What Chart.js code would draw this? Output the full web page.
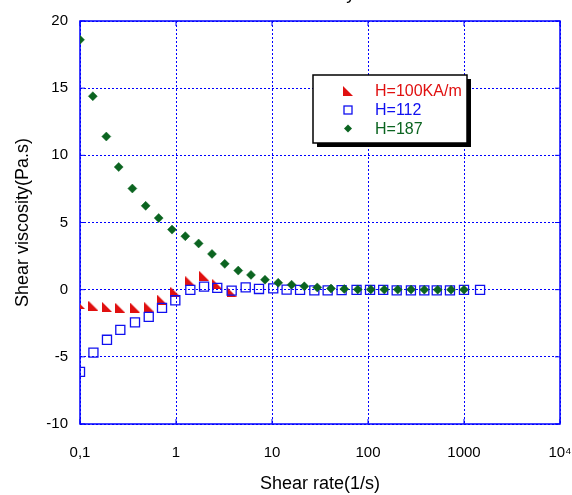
<!DOCTYPE html>
<html>
<head>
<meta charset="utf-8">
<script src="https://cdn.jsdelivr.net/npm/chart.js@4"></script>
<style>
html, body { margin: 0; padding: 0; background: #fff; }
</style>
</head>
<body>
<canvas id="chart" width="572" height="495"></canvas>
<script>
// shear rate (1/s) and viscosity (Pa.s)
const rate100 = [0.1, 0.138, 0.191, 0.263, 0.374, 0.52, 0.715, 0.984, 1.41, 1.96, 2.69, 3.8];
const visc100 = [-1.06, -1.2, -1.28, -1.36, -1.33, -1.26, -0.74, -0.16, 0.63, 1.04, 0.42, -0.17];

const rate112 = [0.1, 0.138, 0.191, 0.263, 0.374, 0.52, 0.715, 0.984, 1.41, 1.96, 2.69, 3.8, 5.32, 7.32, 10.3,
    14.2, 19.6, 27.6, 38.0, 53.1, 76.0, 105, 144, 199, 280, 386, 520, 714, 1000, 1470];
const visc112 = [-6.12, -4.69, -3.73, -2.99, -2.44, -2.02, -1.36, -0.79, -0.02, 0.23, 0.13, -0.07, 0.17, 0.05, 0.1,
    0.0, -0.02, -0.05, -0.05, -0.03, -0.02, -0.02, -0.02, -0.05, -0.05, -0.05, -0.05, -0.05, -0.02, -0.02];

const rate187 = [0.1, 0.136, 0.188, 0.253, 0.351, 0.483, 0.66, 0.909, 1.25, 1.72, 2.37, 3.22, 4.45, 6.04, 8.45,
    11.6, 16.0, 21.7, 29.6, 41.2, 56.6, 78.2, 107, 148, 204, 281, 386, 532, 733, 1000];
const visc187 = [18.6, 14.4, 11.4, 9.13, 7.53, 6.24, 5.33, 4.47, 3.98, 3.44, 2.66, 1.92, 1.42, 1.1, 0.74,
    0.51, 0.37, 0.25, 0.17, 0.08, 0.05, 0.02, 0.02, 0.01, 0.01, 0.01, 0, 0, 0, 0];

const seriesLabels = ['H=100KA/m', 'H=112', 'H=187'];
const xTicks = [0.1, 1, 10, 100, 1000, 10000];
const xTickLabels = ['0,1', '1', '10', '100', '1000', '10\u2074'];

const RED = '#e01010';
const BLUE = '#1010f0';
const GREEN = '#0b6420';
const GRID = '#0000ff';

Chart.defaults.font.family = "'Liberation Sans', Arial, sans-serif";
Chart.defaults.color = '#000';

// right triangle marker (like ◣)
function triangleMarker(size, color) {
    const cv = document.createElement('canvas');
    cv.width = size;
    cv.height = size;
    const g = cv.getContext('2d');
    g.fillStyle = color;
    g.beginPath();
    g.moveTo(0, 0);
    g.lineTo(0, size);
    g.lineTo(size, size);
    g.closePath();
    g.fill();
    return cv;
}
const tri = triangleMarker(10, RED);

const toPoints = (xs, ys) => xs.map((x, i) => ({x: x, y: ys[i]}));

// blue box round the plot with short inward ticks
const frame = {
    id: 'frame',
    beforeDatasetsDraw(c) {
        const {ctx, chartArea: a, scales} = c;
        ctx.save();
        ctx.strokeStyle = GRID;
        ctx.lineWidth = 1.5;
        ctx.strokeRect(a.left, a.top, a.right - a.left, a.bottom - a.top);
        ctx.lineWidth = 1;
        ctx.beginPath();
        scales.x.ticks.forEach(t => {
            const px = scales.x.getPixelForValue(t.value);
            ctx.moveTo(px, a.top); ctx.lineTo(px, a.top + 5);
            ctx.moveTo(px, a.bottom); ctx.lineTo(px, a.bottom - 5);
        });
        scales.y.ticks.forEach(t => {
            const py = scales.y.getPixelForValue(t.value);
            ctx.moveTo(a.left, py); ctx.lineTo(a.left + 5, py);
            ctx.moveTo(a.right, py); ctx.lineTo(a.right - 5, py);
        });
        ctx.stroke();
        ctx.restore();
    }
};

// title sits above the canvas, only the tail of the y shows
const topTitle = {
    id: 'topTitle',
    afterDraw(c) {
        const {ctx, chartArea: a} = c;
        ctx.save();
        ctx.font = "18px 'Liberation Sans', Arial, sans-serif";
        ctx.fillStyle = '#000';
        ctx.textAlign = 'center';
        ctx.textBaseline = 'alphabetic';
        ctx.fillText('Viscosity', (a.left + a.right) / 2, -1);
        ctx.restore();
    }
};

// boxed legend with drop shadow
const boxLegend = {
    id: 'boxLegend',
    afterDraw(c) {
        const ctx = c.ctx;
        const bx = 313, by = 75, bw = 154, bh = 68;
        ctx.save();
        ctx.fillStyle = '#000';
        ctx.fillRect(bx + 4, by + 4, bw, bh);
        ctx.fillStyle = '#fff';
        ctx.fillRect(bx, by, bw, bh);
        ctx.strokeStyle = '#000';
        ctx.lineWidth = 1.5;
        ctx.strokeRect(bx, by, bw, bh);

        const colors = [RED, BLUE, GREEN];
        const rows = [91, 110, 128.5];
        const mx = 348;
        ctx.font = "16px 'Liberation Sans', Arial, sans-serif";
        ctx.textBaseline = 'middle';
        rows.forEach((ry, i) => {
            if (i === 0) {
                ctx.drawImage(tri, mx - 5, ry - 5);
            } else if (i === 1) {
                ctx.strokeStyle = BLUE;
                ctx.lineWidth = 1.3;
                ctx.strokeRect(mx - 4, ry - 4, 8, 8);
            } else {
                ctx.fillStyle = GREEN;
                ctx.beginPath();
                ctx.moveTo(mx, ry - 4);
                ctx.lineTo(mx + 4, ry);
                ctx.lineTo(mx, ry + 4);
                ctx.lineTo(mx - 4, ry);
                ctx.closePath();
                ctx.fill();
            }
            ctx.fillStyle = colors[i];
            ctx.fillText(seriesLabels[i], 375, ry + 1);
        });
        ctx.restore();
    }
};

new Chart(document.getElementById('chart'), {
    type: 'scatter',
    data: {
        datasets: [
            {
                label: seriesLabels[0],
                data: toPoints(rate100, visc100),
                pointStyle: tri,
                pointRadius: 5,
                order: 3
            },
            {
                label: seriesLabels[1],
                data: toPoints(rate112, visc112),
                pointStyle: 'rect',
                pointRadius: 6.4,
                borderColor: BLUE,
                backgroundColor: 'rgba(0,0,0,0)',
                borderWidth: 1.3,
                order: 2
            },
            {
                label: seriesLabels[2],
                data: toPoints(rate187, visc187),
                pointStyle: 'rectRot',
                pointRadius: 4.5,
                borderColor: GREEN,
                backgroundColor: GREEN,
                borderWidth: 0.5,
                order: 1
            }
        ]
    },
    options: {
        responsive: false,
        animation: false,
        events: [],
        layout: {padding: {top: 19, right: 12, left: 0, bottom: 0}},
        plugins: {
            legend: {display: false},
            tooltip: {enabled: false}
        },
        scales: {
            x: {
                type: 'logarithmic',
                min: 0.1,
                max: 10000,
                afterBuildTicks: s => { s.ticks = xTicks.map(v => ({value: v})); },
                afterFit: s => { s.height = 71; s.paddingRight = 0; s.paddingLeft = 0; },
                ticks: {
                    font: {size: 15},
                    padding: 20,
                    maxRotation: 0,
                    autoSkip: false,
                    callback: v => {
                        const i = xTicks.findIndex(t => Math.abs(t - v) / t < 1e-6);
                        return i >= 0 ? xTickLabels[i] : '';
                    }
                },
                grid: {color: GRID, lineWidth: 1, drawTicks: false},
                border: {display: false, dash: [2, 2]},
                title: {
                    display: true,
                    text: 'Shear rate(1/s)',
                    font: {size: 18},
                    padding: {top: 0, bottom: 0}
                }
            },
            y: {
                min: -10,
                max: 20,
                afterFit: s => { s.width = 80; },
                ticks: {stepSize: 5, font: {size: 15}, padding: 12},
                grid: {color: GRID, lineWidth: 1, drawTicks: false},
                border: {display: false, dash: [2, 2]},
                title: {
                    display: true,
                    text: 'Shear viscosity(Pa.s)',
                    font: {size: 18},
                    padding: {top: 12, bottom: 0}
                }
            }
        }
    },
    plugins: [frame, topTitle, boxLegend]
});
</script>
</body>
</html>
